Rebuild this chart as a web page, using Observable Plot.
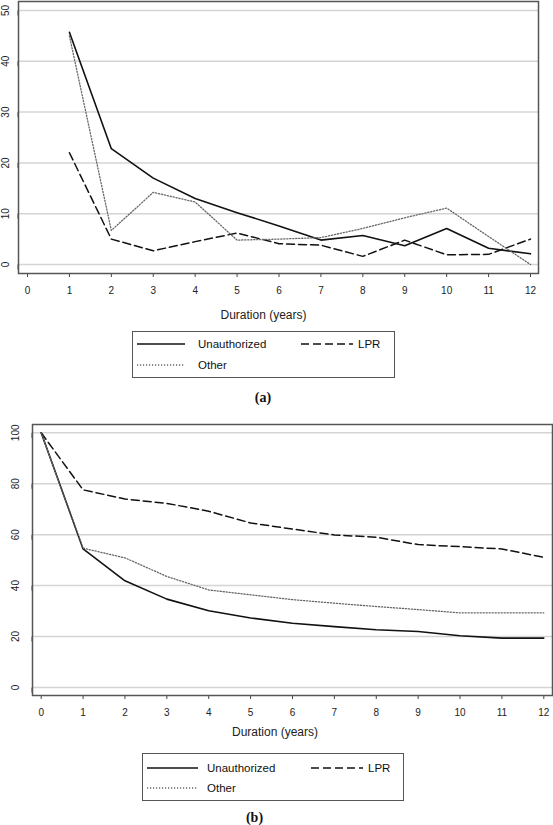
<!DOCTYPE html>
<html><head><meta charset="utf-8">
<script src="https://cdn.jsdelivr.net/npm/d3@7"></script>
<script src="https://cdn.jsdelivr.net/npm/@observablehq/plot@0.6"></script>
<style>
body{margin:0;background:#fff;font-family:"Liberation Sans",Arial,sans-serif;}
#wrap{position:relative;width:553px;height:825px;overflow:hidden;}
.abs{position:absolute;}
.ctext{position:absolute;transform:translate(-50%,-50%);white-space:nowrap;color:#222;}
.legbox{position:absolute;border:1px solid #555;box-sizing:border-box;}
.cap{font-family:"Liberation Serif","Times New Roman",serif;font-weight:bold;font-size:14px;color:#111;}
</style></head><body><div id="wrap"></div>
<script>
// ---- Panel (a): yearly rates by duration ----
const durationA = [1,2,3,4,5,6,7,8,9,10,11,12];
const unauthorizedA = [45.7,22.8,17.0,13.0,10.2,7.6,4.8,5.7,3.7,7.1,3.2,2.1];
const lprA = [22.0,5.0,2.7,4.5,6.2,4.1,3.8,1.6,4.8,1.9,2.0,5.0];
const otherA = [45.0,6.7,14.2,12.3,4.8,5.0,5.3,7.1,9.2,11.1,5.5,0.0];
const yTicksA = [0,10,20,30,40,50];

// ---- Panel (b): survival by duration ----
const durationB = [0,1,2,3,4,5,6,7,8,9,10,11,12];
const unauthorizedB = [100,54.4,41.9,34.7,30.1,27.3,25.2,23.9,22.7,22.0,20.3,19.4,19.4];
const lprB = [100,77.6,74.0,72.3,69.2,64.6,62.2,59.9,59.0,56.1,55.3,54.4,51.1];
const otherB = [100,54.7,50.9,43.6,38.3,36.4,34.5,33.1,31.8,30.6,29.3,29.3,29.3];
const yTicksB = [0,20,40,60,80,100];

const xTicks = [0,1,2,3,4,5,6,7,8,9,10,11,12];
const xLabel = "Duration (years)";
const seriesNames = ["Unauthorized","LPR","Other"];

const styles = {
  "Unauthorized": {stroke:"#111", strokeWidth:1.6, dash:null},
  "LPR": {stroke:"#111", strokeWidth:1.5, dash:"8,4"},
  "Other": {stroke:"#666", strokeWidth:1.3, dash:"1.2,1.8"}
};

function rows(xs, ys) { return xs.map((x,i)=>({x, y: ys[i]})); }

function panel(opts) {
  const {xs, series, yTicks, yDomain, width, height, mL, mR, mT, mB, iL, iR, iT, iB, yPad} = opts;
  const lineMarks = seriesNames.map(name => Plot.line(rows(xs, series[name]), {
    x:"x", y:"y", stroke: styles[name].stroke, strokeWidth: styles[name].strokeWidth,
    strokeDasharray: styles[name].dash || undefined
  }));
  return Plot.plot({
    width, height, marginLeft:mL, marginRight:mR, marginTop:mT, marginBottom:mB,
    style:{fontFamily:'"Liberation Sans",Arial,sans-serif', fontSize:"10px", color:"#222", background:"#fff"},
    x:{domain:[0,12], insetLeft:iL, insetRight:iR},
    y:{domain:yDomain, insetTop:iT, insetBottom:iB},
    marks:[
      Plot.gridY(yTicks, {stroke:"#d4d4d4", strokeOpacity:1, strokeWidth:1.5}),
      Plot.axisX(xTicks, {tickSize:4, tickPadding:9, label:null, stroke:"#444", fill:"#222"}),
      Plot.axisY(yTicks, {tickSize:5, tickPadding:yPad, label:null, rotate:-90, textAnchor:"middle", lineAnchor:"middle", stroke:"#444", fill:"#222"}),
      ...lineMarks,
      Plot.frame({stroke:"#555", strokeWidth:1.5})
    ]
  });
}

const wrap = document.getElementById("wrap");

const plotA = panel({
  xs: durationA, series: {"Unauthorized":unauthorizedA, "LPR":lprA, "Other":otherA},
  yTicks: yTicksA, yDomain:[0,50], width:553, height:300,
  mL:18, mR:15, mT:1, mB:27, iL:9, iR:8, iT:9, iB:9, yPad:8
});
plotA.style.position = "absolute"; plotA.style.left = "0px"; plotA.style.top = "0px";
wrap.appendChild(plotA);

const plotB = panel({
  xs: durationB, series: {"Unauthorized":unauthorizedB, "LPR":lprB, "Other":otherB},
  yTicks: yTicksB, yDomain:[0,100], width:553, height:310,
  mL:32, mR:1, mT:14, mB:25, iL:8.7, iR:8.7, iT:8.3, iB:8, yPad:11.5
});
plotB.style.position = "absolute"; plotB.style.left = "0px"; plotB.style.top = "410px";
wrap.appendChild(plotB);

function ctext(txt, cx, cy, size, cls) {
  const d = document.createElement("div");
  d.className = "ctext" + (cls ? " " + cls : "");
  d.textContent = txt;
  d.style.left = cx + "px"; d.style.top = cy + "px";
  if (size) d.style.fontSize = size + "px";
  wrap.appendChild(d);
}

function legend(box, items) {
  const b = document.createElement("div");
  b.className = "legbox";
  Object.assign(b.style, {left:box.x+"px", top:box.y+"px", width:box.w+"px", height:box.h+"px"});
  wrap.appendChild(b);
  const ns = "http://www.w3.org/2000/svg";
  const svg = document.createElementNS(ns, "svg");
  svg.setAttribute("width", 553); svg.setAttribute("height", 825);
  Object.assign(svg.style, {position:"absolute", left:"0px", top:"0px", pointerEvents:"none"});
  items.forEach(it => {
    const s = styles[it.name];
    const l = document.createElementNS(ns, "line");
    l.setAttribute("x1", it.x1); l.setAttribute("x2", it.x2);
    l.setAttribute("y1", it.y); l.setAttribute("y2", it.y);
    l.setAttribute("stroke", s.stroke); l.setAttribute("stroke-width", s.strokeWidth);
    if (s.dash) l.setAttribute("stroke-dasharray", s.dash);
    svg.appendChild(l);
    const t = document.createElementNS(ns, "text");
    t.setAttribute("x", it.tx); t.setAttribute("y", it.y);
    t.setAttribute("dy", "0.35em");
    t.setAttribute("font-size", "11.5");
    t.setAttribute("font-family", '"Liberation Sans",Arial,sans-serif');
    t.setAttribute("fill", "#111");
    t.textContent = it.name;
    svg.appendChild(t);
  });
  wrap.appendChild(svg);
}

// Panel (a) annotations
ctext(xLabel, 263.5, 315, 12);
legend({x:132, y:331, w:263, h:47}, [
  {name:"Unauthorized", x1:137, x2:185, tx:198, y:344},
  {name:"LPR", x1:301, x2:353, tx:358, y:344},
  {name:"Other", x1:137, x2:185, tx:198, y:365}
]);
ctext("(a)", 263, 398, null, "cap");

// Panel (b) annotations
ctext(xLabel, 275, 732, 12);
legend({x:142, y:753, w:262, h:48}, [
  {name:"Unauthorized", x1:147, x2:198, tx:207, y:768},
  {name:"LPR", x1:311, x2:363, tx:368, y:768},
  {name:"Other", x1:147, x2:198, tx:207, y:788}
]);
ctext("(b)", 254.5, 818, null, "cap");
</script>
</body></html>
